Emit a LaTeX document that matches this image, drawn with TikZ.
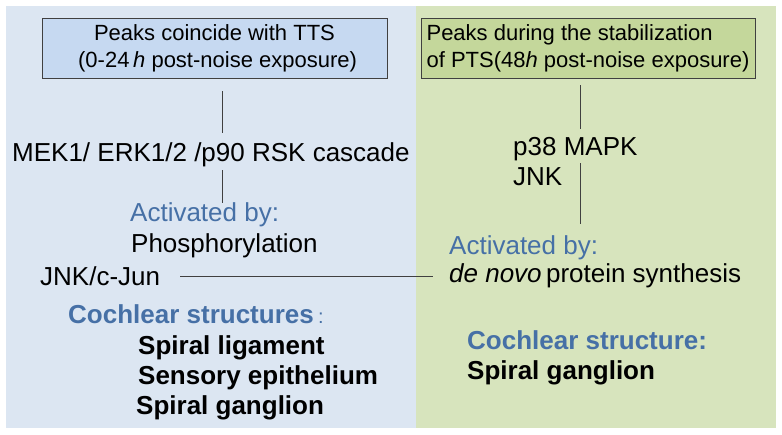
\documentclass[tikz,border=0pt]{standalone}
\usepackage{fontspec}
\setmainfont{Liberation Sans}
\usetikzlibrary{calc}

\definecolor{panelblue}{RGB}{220,230,242}
\definecolor{boxblue}{RGB}{198,217,241}
\definecolor{panelgreen}{RGB}{215,228,189}
\definecolor{boxgreen}{RGB}{196,215,155}
\definecolor{headblue}{RGB}{70,112,166}
\definecolor{linegray}{RGB}{64,64,64}

\begin{document}
\begin{tikzpicture}[x=1pt,y=-1pt]

  \tikzstyle{peak}=[rectangle,draw=linegray,line width=0.8pt,
    font=\fontsize{22}{27}\selectfont,inner sep=2pt]
  \tikzstyle{txt}=[anchor=base west,inner sep=0pt,
    font=\fontsize{26}{30}\selectfont]
  \tikzstyle{head}=[txt,text=headblue]
  \tikzstyle{headb}=[head,font=\fontsize{26}{30}\selectfont\bfseries]
  \tikzstyle{site}=[txt,font=\fontsize{26}{30}\selectfont\bfseries]
  \tikzstyle{link}=[draw=linegray,line width=0.8pt]

  \useasboundingbox (0,0) rectangle (782,435);

  %% panels
  \fill[panelblue]  (6,6)   rectangle (416,428);
  \fill[panelgreen] (416,6) rectangle (776,428);

  %% left side: TTS
  \node (tts) at (214.5,48) [peak,fill=boxblue,minimum width=345pt,
         minimum height=60pt,align=center]
        {Peaks coincide with TTS\\
         \ (0-24\,\textit{h} post-noise exposure)};

  \node (mek)   at (12,162)  [txt]   {MEK1/ ERK1/2 /p90 RSK cascade};
  \node (actL)  at (130,222) [head]  {Activated by:};
  \node (phos)  at (131,253) [txt]   {Phosphorylation};
  \node (jnkc)  at (40,286)  [txt]   {JNK/c-Jun};
  \node (cochL) at (68,324)  [headb] {Cochlear structures\,{\mdseries\fontsize{20}{24}\selectfont:}};
  \node (lig)   at (138,355) [site]  {Spiral ligament};
  \node (epi)   at (138,385) [site]  {Sensory epithelium};
  \node (ganL)  at (136,415) [site]  {Spiral ganglion};

  %% right side: PTS
  \node (pts) at (588,48) [peak,fill=boxgreen,minimum width=334pt,
         minimum height=60pt,align=left]
        {Peaks during the stabilization\\
         of PTS(48\textit{h} post-noise exposure)};

  \node (p38)   at (513,156) [txt]   {p38 MAPK};
  \node (jnk)   at (513,186) [txt]   {JNK};
  \node (actR)  at (449,255) [head]  {Activated by:};
  \node (novo)  at (449,283) [txt]   {\textit{de novo}\,protein synthesis};
  \node (cochR) at (467,350) [headb] {Cochlear structure:};
  \node (ganR)  at (467,380) [site]  {Spiral ganglion};

  %% connectors
  \coordinate (xl) at (222,0);
  \coordinate (xr) at (580,0);

  \draw[link,shorten <=13pt,shorten >=9.5pt] (tts.south -| xl) -- (mek.north -| xl);
  \draw[link,shorten <=2.5pt] (mek.south -| xl) -- (actL.north -| xl);

  \draw[link,shorten <=7pt,shorten >=9pt] (pts.south -| xr) -- (p38.north -| xr);
  \draw[link,shorten <=1.5pt,shorten >=12pt] (p38.south -| xr) -- (actR.north -| xr);

  \draw[link,shorten <=20pt,shorten >=16pt] (jnkc.east) -- (jnkc.east -| novo.west);
\end{tikzpicture}
\end{document}
